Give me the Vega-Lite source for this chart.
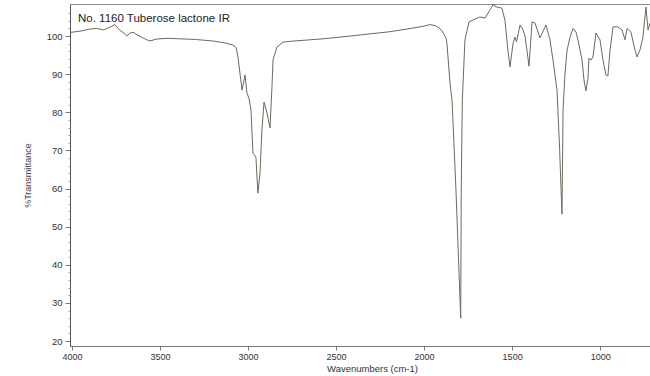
{
  "$schema": "https://vega.github.io/schema/vega-lite/v6.json",
  "width": 580,
  "height": 342,
  "autosize": {"type": "none"},
  "padding": {"left": 70, "top": 4, "right": 0, "bottom": 30},
  "background": "white",
  "config": {"view": {"stroke": null}, "font": "Liberation Sans"},
  "title": {"text": "No. 1160 Tuberose lactone IR", "anchor": "start", "frame": "group", "orient": "top", "offset": -20, "dx": 8, "fontSize": 11.5, "fontWeight": "normal", "color": "#222", "font": "Liberation Sans"},
  "data": {"values": [
    {"wn": 4011, "T": 101}, {"wn": 4000, "T": 101}, {"wn": 3950, "T": 101.3}, {"wn": 3900, "T": 101.8}, {"wn": 3860, "T": 102}, {"wn": 3820, "T": 101.6}, {"wn": 3790, "T": 102.2}, {"wn": 3756, "T": 103}, {"wn": 3730, "T": 101.6}, {"wn": 3700, "T": 100.6}, {"wn": 3688, "T": 100}, {"wn": 3670, "T": 100.8}, {"wn": 3653, "T": 101}, {"wn": 3630, "T": 100.3}, {"wn": 3600, "T": 99.6}, {"wn": 3570, "T": 98.9}, {"wn": 3557, "T": 98.7}, {"wn": 3520, "T": 99.2}, {"wn": 3460, "T": 99.4}, {"wn": 3400, "T": 99.3}, {"wn": 3300, "T": 99.1}, {"wn": 3200, "T": 98.7}, {"wn": 3120, "T": 98.1}, {"wn": 3085, "T": 97.6}, {"wn": 3068, "T": 97}, {"wn": 3057, "T": 94.5}, {"wn": 3034, "T": 85.8}, {"wn": 3017, "T": 89.8}, {"wn": 3006, "T": 85}, {"wn": 2995, "T": 83.7}, {"wn": 2983, "T": 80.6}, {"wn": 2978, "T": 75.3}, {"wn": 2972, "T": 69.3}, {"wn": 2955, "T": 68.2}, {"wn": 2944, "T": 58.8}, {"wn": 2932, "T": 64}, {"wn": 2921, "T": 75.3}, {"wn": 2909, "T": 82.7}, {"wn": 2892, "T": 79.8}, {"wn": 2875, "T": 75.9}, {"wn": 2864, "T": 86.6}, {"wn": 2858, "T": 93.7}, {"wn": 2836, "T": 97.1}, {"wn": 2801, "T": 98.4}, {"wn": 2762, "T": 98.6}, {"wn": 2650, "T": 99}, {"wn": 2591, "T": 99.2}, {"wn": 2500, "T": 99.6}, {"wn": 2400, "T": 100.1}, {"wn": 2300, "T": 100.6}, {"wn": 2200, "T": 101.1}, {"wn": 2100, "T": 101.8}, {"wn": 2000, "T": 102.6}, {"wn": 1966, "T": 103}, {"wn": 1935, "T": 102.7}, {"wn": 1910, "T": 102}, {"wn": 1893, "T": 101}, {"wn": 1875, "T": 99.4}, {"wn": 1870, "T": 98}, {"wn": 1853, "T": 87.7}, {"wn": 1841, "T": 83}, {"wn": 1819, "T": 59.6}, {"wn": 1792, "T": 26}, {"wn": 1789, "T": 60}, {"wn": 1783, "T": 83}, {"wn": 1768, "T": 99}, {"wn": 1745, "T": 103.7}, {"wn": 1722, "T": 104.2}, {"wn": 1683, "T": 105}, {"wn": 1654, "T": 104.7}, {"wn": 1626, "T": 106.8}, {"wn": 1609, "T": 108.2}, {"wn": 1586, "T": 107.6}, {"wn": 1558, "T": 107.3}, {"wn": 1541, "T": 104.2}, {"wn": 1524, "T": 96.3}, {"wn": 1512, "T": 91.9}, {"wn": 1495, "T": 98}, {"wn": 1484, "T": 99.7}, {"wn": 1475, "T": 98.5}, {"wn": 1455, "T": 102.9}, {"wn": 1438, "T": 101.6}, {"wn": 1427, "T": 100}, {"wn": 1416, "T": 96.3}, {"wn": 1404, "T": 92.1}, {"wn": 1387, "T": 103.7}, {"wn": 1370, "T": 103.4}, {"wn": 1342, "T": 99.5}, {"wn": 1308, "T": 102.9}, {"wn": 1285, "T": 99}, {"wn": 1268, "T": 93.7}, {"wn": 1245, "T": 85.8}, {"wn": 1230, "T": 70}, {"wn": 1217, "T": 53.3}, {"wn": 1213, "T": 70}, {"wn": 1211, "T": 80.6}, {"wn": 1200, "T": 90}, {"wn": 1188, "T": 96.3}, {"wn": 1171, "T": 99.7}, {"wn": 1154, "T": 102}, {"wn": 1137, "T": 101}, {"wn": 1126, "T": 99}, {"wn": 1103, "T": 93.7}, {"wn": 1092, "T": 88.5}, {"wn": 1081, "T": 85.6}, {"wn": 1069, "T": 89}, {"wn": 1064, "T": 94.2}, {"wn": 1052, "T": 93.7}, {"wn": 1041, "T": 94.5}, {"wn": 1024, "T": 100.8}, {"wn": 1001, "T": 99}, {"wn": 984, "T": 93.7}, {"wn": 967, "T": 89.8}, {"wn": 956, "T": 89.5}, {"wn": 944, "T": 96.3}, {"wn": 927, "T": 102.4}, {"wn": 899, "T": 102.4}, {"wn": 876, "T": 101.6}, {"wn": 859, "T": 99}, {"wn": 847, "T": 102}, {"wn": 825, "T": 101}, {"wn": 802, "T": 96.3}, {"wn": 791, "T": 94.5}, {"wn": 774, "T": 96.3}, {"wn": 757, "T": 99.7}, {"wn": 740, "T": 107.6}, {"wn": 728, "T": 101.6}, {"wn": 717, "T": 103.4}
  ]},
  "encoding": {
    "x": {"field": "wn", "type": "quantitative", "scale": {"domain": [717, 4011], "reverse": true, "nice": false, "zero": false}},
    "y": {"field": "T", "type": "quantitative", "scale": {"domain": [18.7, 108.4], "nice": false, "zero": false}}
  },
  "layer": [
    {
      "mark": {"type": "line", "color": "#6a6a5e", "strokeWidth": 1, "clip": true, "interpolate": "linear"},
      "encoding": {
        "x": {"field": "wn", "type": "quantitative", "axis": {"orient": "bottom", "values": [4000, 3500, 3000, 2500, 2000, 1500, 1000], "format": "d", "title": "Wavenumbers (cm-1)", "titleX": 302, "titleFontSize": 9.5, "titleFontWeight": "normal", "titleColor": "#333", "titlePadding": 2, "labelFontSize": 9, "labelColor": "#333", "labelPadding": 2, "tickSize": 4, "tickColor": "#777", "domainColor": "#777", "grid": false, "labelFlush": false, "labelOverlap": false}},
        "y": {"field": "T", "type": "quantitative", "axis": {"orient": "left", "values": [20, 30, 40, 50, 60, 70, 80, 90, 100], "title": "%Transmittance", "titleFontSize": 9, "titleFontWeight": "normal", "titleColor": "#444", "titlePadding": 14, "labelFontSize": 9.5, "labelColor": "#333", "labelPadding": 3, "tickSize": 5, "tickColor": "#777", "domainColor": "#555", "grid": false}}
      }
    },
    {
      "mark": {"type": "rule", "opacity": 0},
      "encoding": {
        "x": {"field": "wn", "type": "quantitative", "axis": {"orient": "top", "labels": false, "ticks": false, "title": null, "domainColor": "#888", "grid": false}},
        "y": {"field": "T", "type": "quantitative", "axis": {"orient": "left", "values": [22, 24, 26, 28, 32, 34, 36, 38, 42, 44, 46, 48, 52, 54, 56, 58, 62, 64, 66, 68, 72, 74, 76, 78, 82, 84, 86, 88, 92, 94, 96, 98, 102, 104, 106], "labels": false, "title": null, "tickSize": 2, "tickColor": "#999", "domain": false, "grid": false}}
      }
    }
  ],
  "resolve": {"axis": {"x": "independent", "y": "independent"}}
}
